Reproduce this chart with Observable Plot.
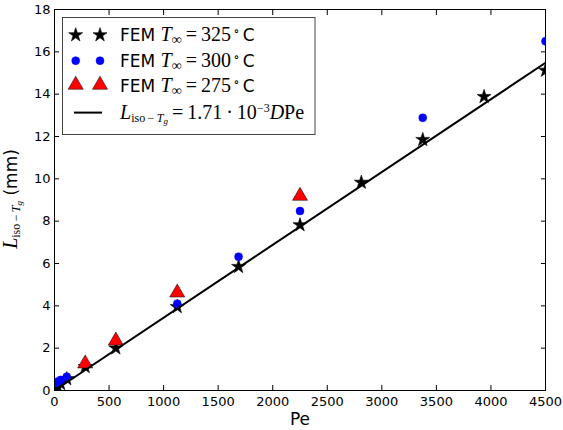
<!DOCTYPE html>
<html><head><meta charset="utf-8">
<script src="https://cdn.jsdelivr.net/npm/d3@7"></script>
<script src="https://cdn.jsdelivr.net/npm/@observablehq/plot@0.6"></script>
<style>body{margin:0;background:#fff} #chart{width:563px;height:430px}</style>
</head><body><div id="chart"></div>
<script>
// FEM T∞ = 325 °C (stars)
const pe325 = [11, 28, 56, 112, 281, 562, 1125, 1687, 2250, 2812, 3375, 3937, 4500];
const L325  = [0.1, 0.2, 0.32, 0.55, 1.12, 2.0, 3.95, 5.85, 7.82, 9.83, 11.85, 13.88, 15.12];
// FEM T∞ = 300 °C (blue circles)
const pe300 = [11, 28, 56, 112, 1125, 1687, 2250, 3375, 4500];
const L300  = [0.35, 0.42, 0.5, 0.65, 4.1, 6.32, 8.48, 12.88, 16.5];
// FEM T∞ = 275 °C (red triangles)
const pe275 = [281, 562, 1125, 2250];
const L275  = [1.2, 2.28, 4.55, 9.12];
// Fit line L = 1.71e-3 * D * Pe
const fitCoef = 1.71e-3;
const fitD = 2.012;
const peLine = [0, 4500];
// axis ticks
const xTicks = [0, 500, 1000, 1500, 2000, 2500, 3000, 3500, 4000, 4500];
const yTicks = [0, 2, 4, 6, 8, 10, 12, 14, 16, 18];

const d325 = pe325.map((p, i) => ({pe: p, L: L325[i]}));
const d300 = pe300.map((p, i) => ({pe: p, L: L300[i]}));
const d275 = pe275.map((p, i) => ({pe: p, L: L275[i]}));
const dLine = peLine.map(p => ({pe: p, L: fitCoef * fitD * p}));

const rStar = 4.4, rCirc = 4, rTri = 5.6;

const chart = Plot.plot({
  width: 563, height: 430,
  marginLeft: 54, marginRight: 18, marginTop: 9, marginBottom: 40,
  style: {fontFamily: "DejaVu Sans", fontSize: "13px", color: "#000", background: "#fff", overflow: "visible"},
  x: {domain: [0, 4500]},
  y: {domain: [0, 18]},
  marks: [
    Plot.dot(d325, {x: "pe", y: "L", symbol: "star", r: rStar, fill: "black", stroke: "black", strokeWidth: 0.6, clip: true}),
    Plot.dot(d300, {x: "pe", y: "L", symbol: "circle", r: rCirc, fill: "#0000ff", stroke: "#0000ff", strokeWidth: 0.5, clip: true}),
    Plot.dot(d275, {x: "pe", y: "L", symbol: "triangle", r: rTri, fill: "#ff0000", stroke: "black", strokeWidth: 0.5, dy: -1.5, clip: true}),
    Plot.line(dLine, {x: "pe", y: "L", stroke: "black", strokeWidth: 2, clip: true}),
    Plot.frame({stroke: "black", strokeWidth: 1}),
    Plot.axisX({ticks: xTicks, anchor: "bottom", tickSize: -5, tickPadding: 11, label: null, fontSize: 13, tickFormat: d => String(d)}),
    Plot.axisX({ticks: xTicks, anchor: "top", tickSize: -5, tickFormat: () => "", label: null}),
    Plot.axisY({ticks: yTicks, anchor: "left", tickSize: -5, tickPadding: 9, label: null, fontSize: 13, tickFormat: d => String(d)}),
    Plot.axisY({ticks: yTicks, anchor: "right", tickSize: -5, tickFormat: () => "", label: null})
  ]
});
document.getElementById("chart").appendChild(chart);

const svg = d3.select(chart);
const serif = "Liberation Serif, DejaVu Serif, serif";
const sans = "DejaVu Sans, sans-serif";

// x label
svg.append("text").attr("x", 300).attr("y", 425).attr("text-anchor", "middle")
  .attr("font-family", sans).attr("font-size", 17).attr("fill", "#000").text("Pe");

// y label
const yl = svg.append("text").attr("transform", "translate(17,199) rotate(-90)")
  .attr("text-anchor", "middle").attr("fill", "#000");
yl.append("tspan").attr("font-family", serif).attr("font-style", "italic").attr("font-size", 20).text("L");
yl.append("tspan").attr("font-family", serif).attr("font-size", 12).attr("dy", 3).text("iso");
yl.append("tspan").attr("font-family", serif).attr("font-size", 12).text("\u2009\u2212\u2009");
yl.append("tspan").attr("font-family", serif).attr("font-style", "italic").attr("font-size", 12).text("T");
yl.append("tspan").attr("font-family", serif).attr("font-style", "italic").attr("font-size", 9).attr("dy", 2).text("g");
yl.append("tspan").attr("font-family", sans).attr("font-size", 17).attr("dy", -5).text(" (mm)");

// legend
const lg = svg.append("g").attr("text-anchor", "start");
lg.append("rect").attr("x", 62.5).attr("y", 17.5).attr("width", 252.5).attr("height", 117)
  .attr("fill", "#fff").attr("stroke", "#444").attr("stroke-width", 1);
const rowY = [35, 60.7, 86.4, 112.6];
const mx = [75.7, 100];
const symSize = r => r * r * Math.PI;
mx.forEach(x => {
  lg.append("path").attr("transform", `translate(${x},${rowY[0]})`)
    .attr("d", d3.symbol(d3.symbolStar, symSize(rStar))()).attr("fill", "black").attr("stroke", "black").attr("stroke-width", 0.6);
  lg.append("path").attr("transform", `translate(${x},${rowY[1]})`)
    .attr("d", d3.symbol(d3.symbolCircle, symSize(rCirc))()).attr("fill", "#0000ff").attr("stroke", "#0000ff").attr("stroke-width", 0.5);
  lg.append("path").attr("transform", `translate(${x},${rowY[2] - 1.5})`)
    .attr("d", d3.symbol(d3.symbolTriangle, symSize(rTri))()).attr("fill", "#ff0000").attr("stroke", "black").attr("stroke-width", 0.5);
});
lg.append("line").attr("x1", 74).attr("x2", 102).attr("y1", rowY[3]).attr("y2", rowY[3])
  .attr("stroke", "black").attr("stroke-width", 2);

const temps = ["325", "300", "275"];
temps.forEach((t, i) => {
  const tx = lg.append("text").attr("x", 120).attr("y", rowY[i] + 6).attr("fill", "#000").attr("text-anchor", "start");
  tx.append("tspan").attr("font-family", sans).attr("font-size", 17).text("FEM ");
  tx.append("tspan").attr("font-family", serif).attr("font-style", "italic").attr("font-size", 20).text("T");
  tx.append("tspan").attr("font-family", serif).attr("font-size", 14).attr("dy", 3).text("\u221e");
  tx.append("tspan").attr("font-family", serif).attr("font-size", 20).attr("dy", -3).text("\u2009=\u2009" + t);
  tx.append("tspan").attr("font-family", serif).attr("font-size", 12).attr("dy", -6).text("\u2009\u2218");
  tx.append("tspan").attr("font-family", sans).attr("font-size", 17).attr("dy", 6).text("\u2009C");
});
const lt = lg.append("text").attr("x", 120).attr("y", rowY[3] + 6).attr("fill", "#000").attr("text-anchor", "start");
lt.append("tspan").attr("font-family", serif).attr("font-style", "italic").attr("font-size", 20).text("L");
lt.append("tspan").attr("font-family", serif).attr("font-size", 12).attr("dy", 3).text("iso");
lt.append("tspan").attr("font-family", serif).attr("font-size", 12).text("\u2009\u2212\u2009");
lt.append("tspan").attr("font-family", serif).attr("font-style", "italic").attr("font-size", 12).text("T");
lt.append("tspan").attr("font-family", serif).attr("font-style", "italic").attr("font-size", 9).attr("dy", 2).text("g");
lt.append("tspan").attr("font-family", serif).attr("font-size", 20).attr("dy", -5).text("\u2009=\u20091.71\u2009\u00b7\u200910");
lt.append("tspan").attr("font-family", serif).attr("font-size", 12).attr("dy", -7).text("\u2212" + "3");
lt.append("tspan").attr("font-family", serif).attr("font-style", "italic").attr("font-size", 20).attr("dy", 7).text("D");
lt.append("tspan").attr("font-family", serif).attr("font-size", 20).text("Pe");
</script>
</body></html>
